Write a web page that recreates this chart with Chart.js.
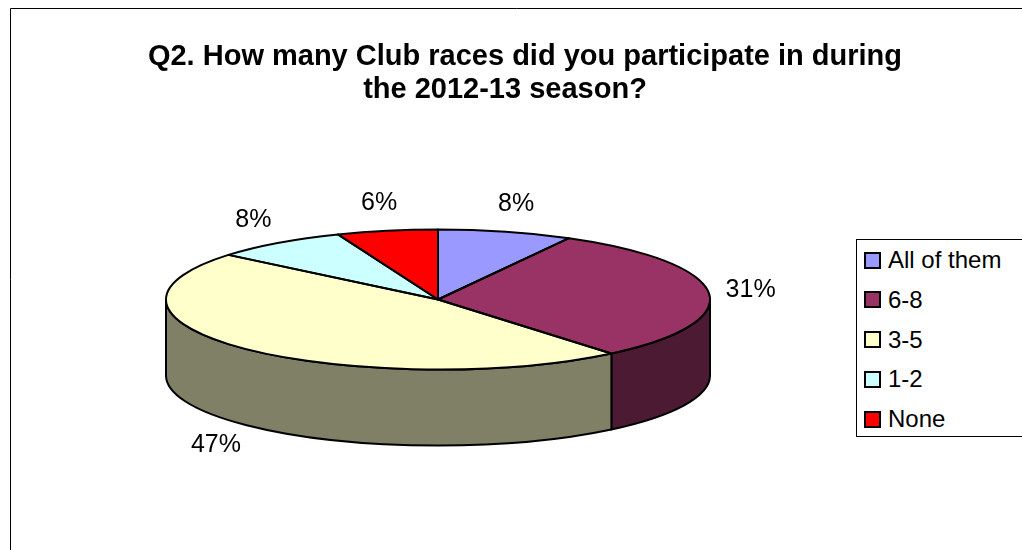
<!DOCTYPE html>
<html>
<head>
<meta charset="utf-8">
<title>Club races 2012-13</title>
<script src="https://cdn.jsdelivr.net/npm/chart.js@4.4.0/dist/chart.umd.min.js"></script>
<style>
    html, body { margin: 0; padding: 0; background: #fff; overflow: hidden; }
    #wrap { position: relative; width: 1022px; height: 550px; overflow: hidden;
            font-family: Arial, "Liberation Sans", sans-serif; color: #000; }
    #chart { position: absolute; left: 0; top: 0; }
    #title { position: absolute; left: 0; top: 39px; width: 1030px; text-align: center;
             font-weight: bold; font-size: 29px; line-height: 33px; }
    #title div { position: relative; }
    #legend { position: absolute; left: 856px; top: 239px; width: 166px; height: 196px;
              border: 1px solid #000; border-right: none; background: #fff; overflow: hidden; }
    .item { position: absolute; left: 7px; height: 24px; }
    .swatch { position: absolute; left: 0; top: 3.5px; width: 13px; height: 13px; border: 2px solid #000; }
    .label { position: absolute; left: 24px; top: 0; font-size: 24px; line-height: 24px; white-space: nowrap; }
</style>
</head>
<body>
<div id="wrap">
    <canvas id="chart" width="1022" height="550"></canvas>
    <div id="title">
        <div style="left:10px">Q2. How many Club races did you participate in during</div>
        <div style="left:-10px">the 2012-13 season?</div>
    </div>
    <div id="legend"></div>
</div>
<script>
// answers and their share of respondents (%)
const categories = ['All of them', '6-8', '3-5', '1-2', 'None'];
const shares = [8, 31, 47, 8, 6];
const sliceColors = ['#9999FF', '#993366', '#FFFFCC', '#CCFFFF', '#FF0000'];

// darker tone for the side walls of the disc
function shade(hex, f) {
    const n = parseInt(hex.slice(1), 16);
    const r = Math.round(((n >> 16) & 255) * f);
    const g = Math.round(((n >> 8) & 255) * f);
    const b = Math.round((n & 255) * f);
    return `rgb(${r},${g},${b})`;
}

// outer chart border: only the left and top edges fall inside the canvas
const frame = {
    id: 'frame',
    beforeDraw(chart) {
        const ctx = chart.ctx;
        ctx.save();
        ctx.strokeStyle = '#000';
        ctx.lineWidth = 1;
        ctx.beginPath();
        ctx.moveTo(10.5, chart.height);
        ctx.lineTo(10.5, 8.5);
        ctx.lineTo(chart.width, 8.5);
        ctx.stroke();
        ctx.restore();
    }
};

// Tilts the round pie into a flat 3D disc: walls first, then the
// squashed top faces drawn by Chart.js, then outlines and % labels.
const pie3d = {
    id: 'pie3d',
    geom(chart) {
        const area = chart.chartArea;
        const arcs = chart.getDatasetMeta(0).data;
        return {
            arcs,
            cx: arcs[0].x,
            cy: arcs[0].y,
            r: arcs[0].outerRadius,
            rx: (area.right - area.left) / 2,
            ry: (area.bottom - area.top) / 2
        };
    },
    beforeDatasetsDraw(chart, args, opts) {
        const ctx = chart.ctx;
        const g = this.geom(chart);
        ctx.save();
        ctx.lineWidth = opts.lineWidth;
        ctx.strokeStyle = '#000';
        ctx.lineJoin = 'round';
        g.arcs.forEach(arc => {
            const a0 = Math.max(arc.startAngle, 0);
            const a1 = Math.min(arc.endAngle, Math.PI);
            if (a1 <= a0) return;
            ctx.beginPath();
            ctx.ellipse(g.cx, g.cy, g.rx, g.ry, 0, a0, a1);
            ctx.ellipse(g.cx, g.cy + opts.depth, g.rx, g.ry, 0, a1, a0, true);
            ctx.closePath();
            ctx.fillStyle = shade(arc.options.backgroundColor, 0.5);
            ctx.fill();
            ctx.stroke();
        });
        ctx.restore();

        ctx.save();
        ctx.translate(g.cx, g.cy);
        ctx.scale(g.rx / g.r, g.ry / g.r);
        ctx.translate(-g.cx, -g.cy);
    },
    afterDatasetsDraw(chart, args, opts) {
        const ctx = chart.ctx;
        ctx.restore();
        const g = this.geom(chart);
        const values = chart.data.datasets[0].data;

        ctx.save();
        ctx.lineWidth = opts.lineWidth;
        ctx.strokeStyle = '#000';
        ctx.lineJoin = 'round';
        g.arcs.forEach(arc => {
            ctx.beginPath();
            ctx.moveTo(g.cx, g.cy);
            ctx.ellipse(g.cx, g.cy, g.rx, g.ry, 0, arc.startAngle, arc.endAngle);
            ctx.closePath();
            ctx.stroke();
        });

        ctx.fillStyle = '#000';
        ctx.font = opts.labelFont;
        ctx.textAlign = 'center';
        ctx.textBaseline = 'middle';
        g.arcs.forEach((arc, i) => {
            const mid = (arc.startAngle + arc.endAngle) / 2;
            const c = Math.cos(mid), s = Math.sin(mid);
            const x = g.cx + (g.rx + opts.labelGapX) * c;
            const y = g.cy + (g.ry + opts.labelGapY) * s + (s > 0 ? opts.depth : 0);
            ctx.fillText(values[i] + '%', x, y);
        });
        ctx.restore();
    }
};

new Chart(document.getElementById('chart'), {
    type: 'pie',
    data: {
        labels: categories,
        datasets: [{
            data: shares,
            backgroundColor: sliceColors,
            borderWidth: 0,
            hoverOffset: 0,
            clip: false
        }]
    },
    options: {
        responsive: false,
        animation: false,
        events: [],
        layout: { padding: { left: 166, right: 312, top: 229.5, bottom: 180.5 } },
        plugins: {
            legend: { display: false },
            title: { display: false },
            tooltip: { enabled: false },
            pie3d: { depth: 76, lineWidth: 2, labelGapX: 42, labelGapY: 28, labelFont: '25px Arial, "Liberation Sans", sans-serif' }
        }
    },
    plugins: [frame, pie3d]
});

// legend box on the right
const legend = document.getElementById('legend');
categories.forEach((name, i) => {
    const row = document.createElement('div');
    row.className = 'item';
    row.style.top = (8 + i * 39.75) + 'px';
    row.innerHTML = `<div class="swatch" style="background:${sliceColors[i]}"></div><div class="label">${name}</div>`;
    legend.appendChild(row);
});
</script>
</body>
</html>
